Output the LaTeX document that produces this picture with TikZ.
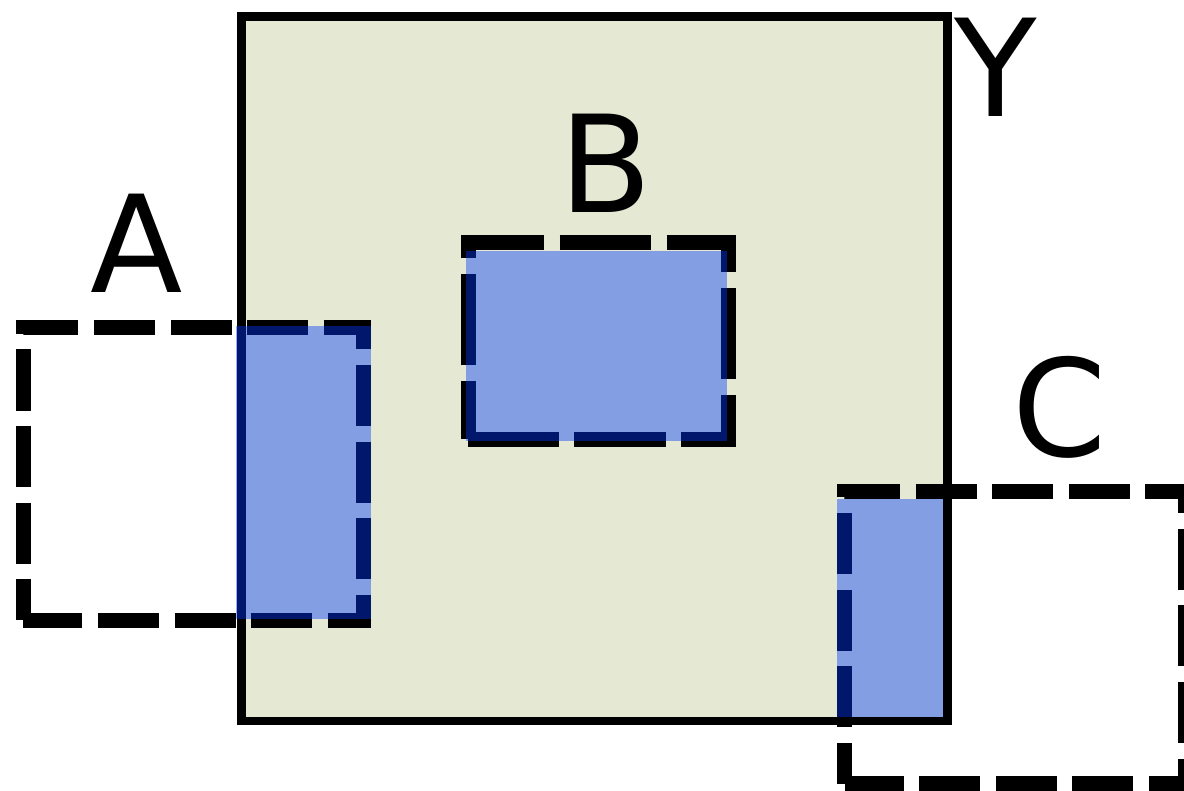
\documentclass[tikz,border=0pt]{standalone}
\usepackage{fontspec}
\setmainfont{DejaVu Sans}
\definecolor{beige}{RGB}{229,232,210}
\definecolor{overlapblue}{RGB}{0,57,255}
\begin{document}
\begin{tikzpicture}[x=0.5pt,y=-0.5pt,
  dashbox/.style={line width=7.5pt, dash pattern=on 30.5pt off 7.8pt, dash phase=10.15pt},
  dashboxb/.style={line width=7.5pt, dash pattern=on 45.75pt off 7.75pt, dash phase=16.75pt},
  overlap/.style={fill=overlapblue, fill opacity=0.42},
  lbl/.style={font=\fontsize{67.5}{80}\selectfont, inner sep=0pt, anchor=base}]
\useasboundingbox (0,0) rectangle (1184,791);
% universe Y
\draw[line width=4.25pt, fill=beige] (241.5,16.5) rectangle (947.5,721);
% dashed sets
\draw[dashbox] (23.3,620) -- (23.3,328) -- (363.5,328) -- (363.5,620) -- cycle;
\draw[dashboxb] (468,439) -- (468,243) -- (728.5,243) -- (728.5,439) -- cycle;
\draw[dashbox] (844.7,783.5) -- (844.7,491.7) -- (1185,491.7) -- (1185,783.5) -- cycle;
% overlaps with Y
\fill[overlap] (236.3,326) rectangle (370.7,619.3);
\fill[overlap] (465.7,250.7) rectangle (727.3,440.7);
\fill[overlap] (836.7,499.3) rectangle (943.3,716.7);
% labels
\node[lbl] (la) at (137,293) {A};
\node[lbl] (lb) at (606,213) {B};
\node[lbl] (lc) at (1060,456) {C};
\node[lbl] (ly) at (996,116.7) {Y};
\end{tikzpicture}
\end{document}
